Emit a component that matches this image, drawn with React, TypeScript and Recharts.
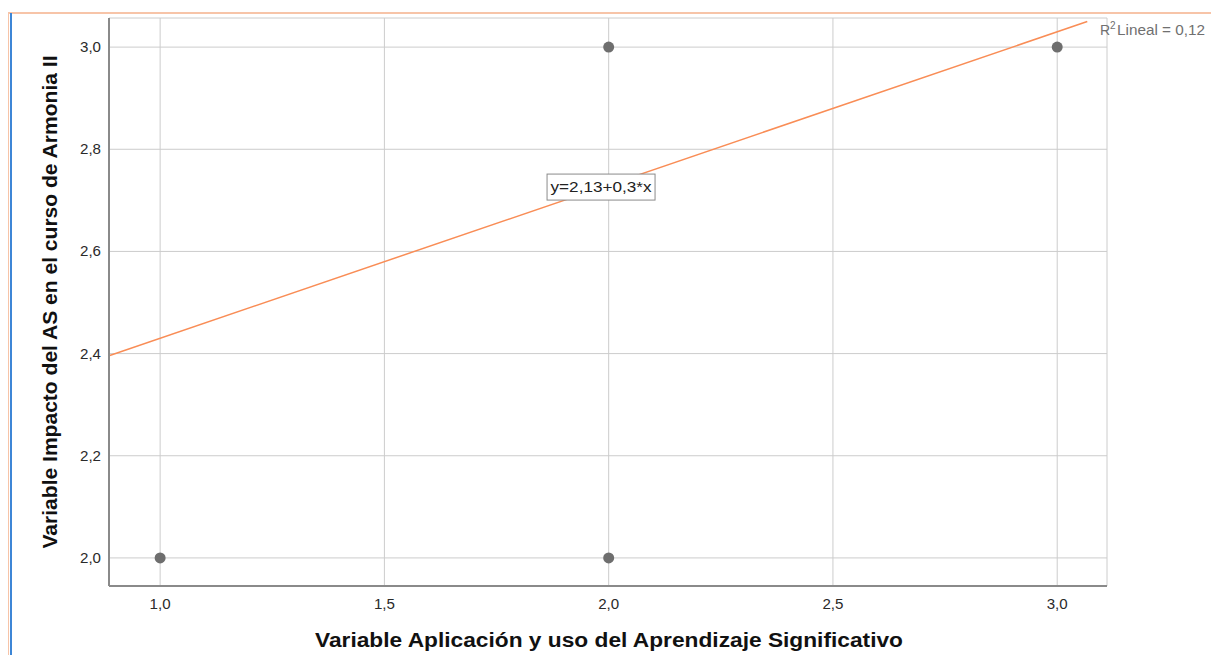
import { CartesianGrid, ReferenceDot, ReferenceLine, Scatter, ScatterChart, XAxis, YAxis } from 'recharts';

// observaciones (x = Aplicación y uso del AS, y = Impacto del AS)
const pointsX = [1, 2, 2, 3];
const pointsY = [2, 2, 3, 3];

const xTicks = [1, 1.5, 2, 2.5, 3];
const yTicks = [2, 2.2, 2.4, 2.6, 2.8, 3];
const xDomain = [0.886, 3.111];
const yDomain = [1.945, 3.057];

// recta ajustada y = 2,13 + 0,3*x
const intercept = 2.13;
const slope = 0.3;
const fitRange = [0.886, 3.067];
const equationLabel = 'y=2,13+0,3*x';
const rSquared = '0,12';

const FONT = '"Liberation Sans", Arial, sans-serif';
const fmt = (v: number) => v.toFixed(1).replace('.', ',');

const points = pointsX.map((x, i) => ({ x, y: pointsY[i] }));
const fitSegment = fitRange.map((x) => ({ x, y: intercept + slope * x }));

// la imagen original está algo estirada en horizontal: se compensa con textLength
const XTick = (p: any) => (
  <text
    x={p.x}
    y={p.y}
    dy={11}
    textAnchor="middle"
    fontSize={14}
    fontFamily={FONT}
    fill="#2a2a2a"
    textLength={21}
    lengthAdjust="spacingAndGlyphs"
  >
    {fmt(p.payload.value)}
  </text>
);

const YTick = (p: any) => (
  <text
    x={p.x}
    y={p.y}
    dy={5}
    textAnchor="end"
    fontSize={14}
    fontFamily={FONT}
    fill="#2a2a2a"
    textLength={21}
    lengthAdjust="spacingAndGlyphs"
  >
    {fmt(p.payload.value)}
  </text>
);

const EquationBox = (props: any) => {
  const { cx, cy } = props;
  if (cx == null || cy == null) return null;
  const w = 108;
  const h = 26;
  return (
    <g>
      <rect x={cx - w / 2} y={cy - h / 2} width={w} height={h} fill="#fff" stroke="#8a8a8a" strokeWidth={1} />
      <text
        x={cx}
        y={cy + 5}
        textAnchor="middle"
        fontSize={14}
        fontFamily={FONT}
        fill="#222"
        textLength={101}
        lengthAdjust="spacingAndGlyphs"
      >
        {equationLabel}
      </text>
    </g>
  );
};

export default function App() {
  return (
    <div style={{ position: 'relative', width: 1211, height: 647, fontFamily: FONT }}>
      <style>{'html, body { overflow: hidden; }'}</style>
      {/* marco de la ventana de SPSS */}
      <div style={{ position: 'absolute', left: 0, top: 4, width: 1211, height: 2, background: '#f7c4a8' }} />
      <div style={{ position: 'absolute', left: 0, top: 5, width: 1, height: 642, background: '#f7c4a8' }} />
      <div style={{ position: 'absolute', left: 2, top: 5, width: 2, height: 642, background: '#3d86d6' }} />
      <ScatterChart width={1211} height={647} margin={{ top: 10, right: 112, bottom: 39, left: 41 }}>
        <CartesianGrid
          horizontal={{ stroke: '#c2c2c2', strokeWidth: 1 }}
          vertical={{ stroke: '#d4d4d4', strokeWidth: 2 }}
        />
        <XAxis
          type="number"
          dataKey="x"
          domain={xDomain}
          ticks={xTicks}
          allowDataOverflow
          height={30}
          tickLine={false}
          tickSize={6}
          tickMargin={6}
          axisLine={{ stroke: '#8a8a8a', strokeWidth: 2 }}
          tick={XTick}
          label={() => (
            <text
              x={601}
              y={639}
              textAnchor="middle"
              fontSize={20}
              fontWeight="bold"
              fontFamily={FONT}
              fill="#111"
              textLength={588}
              lengthAdjust="spacingAndGlyphs"
            >
              Variable Aplicación y uso del Aprendizaje Significativo
            </text>
          )}
        />
        <YAxis
          type="number"
          dataKey="y"
          domain={yDomain}
          ticks={yTicks}
          allowDataOverflow
          width={60}
          tickLine={false}
          axisLine={{ stroke: '#8a8a8a', strokeWidth: 2 }}
          tick={YTick}
          label={() => (
            <text
              x={49}
              y={294}
              transform="rotate(-90 49 294)"
              textAnchor="middle"
              fontSize={20}
              fontWeight="bold"
              fontFamily={FONT}
              fill="#111"
              textLength={493}
              lengthAdjust="spacingAndGlyphs"
            >
              Variable Impacto del AS en el curso de Armonia II
            </text>
          )}
        />
        <ReferenceLine segment={fitSegment} stroke="#f98d56" strokeWidth={1.5} ifOverflow="visible" />
        <Scatter
          data={points}
          isAnimationActive={false}
          shape={(p: any) => <circle cx={p.cx} cy={p.cy} r={5.5} fill="#6e6e6e" />}
        />
        <ReferenceDot x={1.983} y={2.726} ifOverflow="visible" shape={EquationBox} />
      </ScatterChart>
      {/* R² corrido unos px a la izquierda para que entre en la ventana */}
      <svg style={{ position: 'absolute', left: 1090, top: 4, overflow: 'visible' }} width={113} height={30}>
        <text x={2} y={23} fontSize={14} fontFamily={FONT} fill="#707070">
          R
        </text>
        <text x={12} y={17} fontSize={10} fontFamily={FONT} fill="#707070">
          2
        </text>
        <text
          x={19}
          y={23}
          fontSize={14}
          fontFamily={FONT}
          fill="#707070"
          textLength={88}
          lengthAdjust="spacingAndGlyphs"
        >
          {`Lineal = ${rSquared}`}
        </text>
      </svg>
    </div>
  );
}
